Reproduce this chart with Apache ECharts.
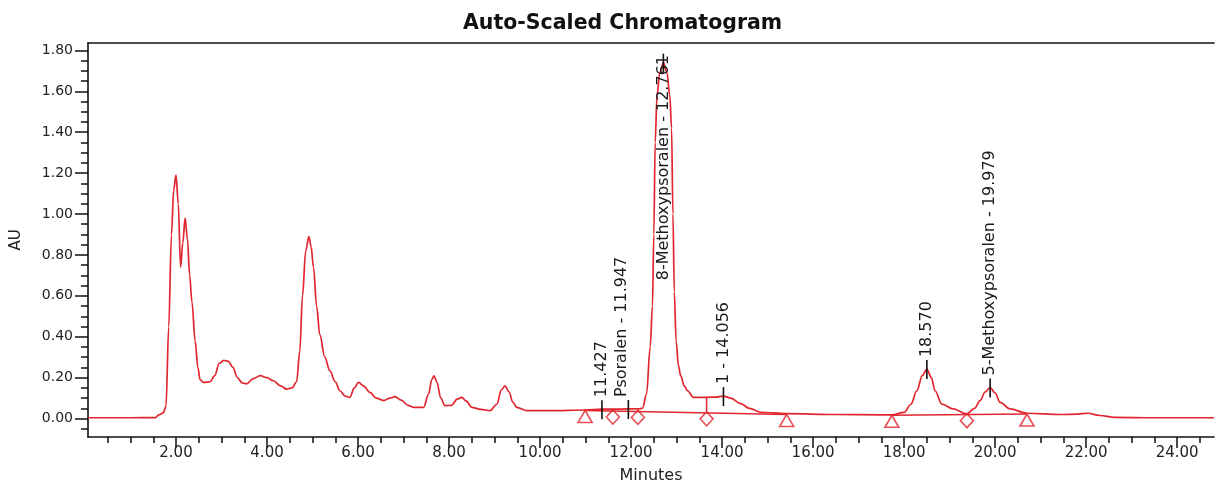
<!DOCTYPE html>
<html><head><meta charset="utf-8">
<script src="https://cdn.jsdelivr.net/npm/echarts@6/dist/echarts.min.js"></script>
<style>html,body{margin:0;padding:0;background:#fff}#c{width:1216px;height:484px}</style>
</head><body><div id="c"></div>
<script>
// ---- data ----
const times = [0.07,1.00,1.55,1.62,1.72,1.78,1.84,1.90,1.95,2.00,2.05,2.10,2.15,2.20,2.25,2.30,2.35,2.42,2.48,2.53,2.60,2.75,2.85,2.95,3.05,3.15,3.25,3.35,3.45,3.55,3.70,3.85,4.00,4.14,4.30,4.43,4.55,4.65,4.72,4.78,4.85,4.92,4.97,5.02,5.09,5.16,5.27,5.38,5.50,5.60,5.72,5.82,5.92,6.01,6.12,6.26,6.40,6.56,6.70,6.81,6.95,7.10,7.22,7.44,7.55,7.62,7.67,7.73,7.82,7.91,8.05,8.18,8.28,8.38,8.50,8.70,8.90,9.05,9.15,9.23,9.32,9.40,9.49,9.71,10.22,11.00,11.36,11.60,11.94,12.15,12.25,12.34,12.42,12.47,12.50,12.53,12.57,12.63,12.71,12.79,12.85,12.89,12.92,12.95,12.99,13.04,13.09,13.17,13.24,13.37,13.66,13.85,14.03,14.19,14.41,14.60,14.85,15.42,16.50,17.50,17.73,18.00,18.15,18.28,18.40,18.50,18.60,18.68,18.83,19.08,19.38,19.55,19.67,19.78,19.89,20.00,20.11,20.33,20.70,21.43,21.80,22.04,22.30,22.62,23.50,24.81];
const au = [0.004,0.004,0.005,0.018,0.028,0.06,0.45,0.90,1.12,1.19,1.05,0.74,0.86,0.98,0.88,0.70,0.57,0.38,0.25,0.19,0.177,0.18,0.21,0.27,0.285,0.28,0.25,0.20,0.175,0.17,0.195,0.21,0.20,0.185,0.16,0.144,0.15,0.18,0.33,0.60,0.82,0.89,0.84,0.74,0.55,0.41,0.30,0.234,0.18,0.136,0.11,0.104,0.15,0.177,0.16,0.128,0.10,0.088,0.10,0.107,0.09,0.065,0.055,0.055,0.12,0.19,0.209,0.18,0.10,0.063,0.065,0.095,0.104,0.085,0.055,0.045,0.039,0.07,0.14,0.16,0.13,0.08,0.055,0.039,0.039,0.042,0.046,0.046,0.047,0.048,0.05,0.12,0.35,0.55,0.90,1.35,1.58,1.69,1.74,1.69,1.58,1.42,1.00,0.62,0.38,0.26,0.21,0.16,0.136,0.104,0.104,0.105,0.11,0.10,0.073,0.05,0.031,0.024,0.02,0.018,0.018,0.03,0.07,0.136,0.21,0.242,0.20,0.136,0.071,0.047,0.023,0.05,0.088,0.13,0.152,0.125,0.079,0.047,0.026,0.02,0.022,0.026,0.015,0.006,0.004,0.004];

const peakTimes = [11.36, 11.94, 12.71, 14.03, 18.50, 19.89];
const peakHeights = [0.046, 0.047, 1.74, 0.11, 0.242, 0.152];
const peakLabels = ['11.427', 'Psoralen - 11.947', '8-Methoxypsoralen - 12.761', '1 - 14.056', '18.570', '5-Methoxypsoralen - 19.979'];

const triangleTimes = [10.99, 15.42, 17.73, 20.70];
const triangleValues = [0.040, 0.020, 0.016, 0.022];
const diamondTimes = [11.60, 12.15, 13.66, 19.38];
const diamondValues = [0.037, 0.035, 0.028, 0.019];
const diamondSignal = [0.046, 0.048, 0.104, 0.023];
const baselineStart = [[10.99, 0.040], [17.73, 0.016]];
const baselineEnd = [[15.42, 0.020], [20.70, 0.022]];

const xMajorTicks = [2, 4, 6, 8, 10, 12, 14, 16, 18, 20, 22, 24];
const xMinorTicks = [0.5, 1, 1.5, 2.5, 3, 3.5, 4.5, 5, 5.5, 6.5, 7, 7.5, 8.5, 9, 9.5, 10.5, 11, 11.5, 12.5, 13, 13.5, 14.5, 15, 15.5, 16.5, 17, 17.5, 18.5, 19, 19.5, 20.5, 21, 21.5, 22.5, 23, 23.5, 24.5];
const yMajorTicks = [0, 0.2, 0.4, 0.6, 0.8, 1.0, 1.2, 1.4, 1.6, 1.8];
const yMinorTicks = [-0.05, 0.05, 0.1, 0.15, 0.25, 0.3, 0.35, 0.45, 0.5, 0.55, 0.65, 0.7, 0.75, 0.85, 0.9, 0.95, 1.05, 1.1, 1.15, 1.25, 1.3, 1.35, 1.45, 1.5, 1.55, 1.65, 1.7, 1.75];

// ---- layout / style ----
const RED = '#e0262e';
const INK = '#111';
const LABEL_FONT = '16px "DejaVu Sans"';
const labelNudgeX = [0, -6, 0, 0, 0, 0];
const X_MIN = 0.066, X_MAX = 24.81, Y_MIN = -0.09, Y_MAX = 1.836;

const ctx = document.createElement('canvas').getContext('2d');
ctx.font = LABEL_FONT;
const textWidth = s => ctx.measureText(s).width;

const chart = echarts.init(document.getElementById('c'), null, {renderer: 'canvas'});

const axisFont = {fontFamily: 'DejaVu Sans', color: '#222'};
const signal = times.map((t, i) => [t, au[i]]);

const option = {
  animation: false,
  title: {
    text: 'Auto-Scaled Chromatogram',
    left: 458, top: 8,
    textStyle: {fontFamily: 'DejaVu Sans', fontWeight: 'bold', fontSize: 20.5, color: '#111'}
  },
  grid: {left: 88, right: 2, top: 43, bottom: 47, containLabel: false, outerBoundsMode: 'none'},
  xAxis: [
    {
      type: 'value', min: X_MIN, max: X_MAX, position: 'bottom',
      name: 'Minutes', nameLocation: 'middle', nameGap: 31,
      nameTextStyle: Object.assign({fontSize: 16}, axisFont),
      axisLine: {show: true, onZero: false, lineStyle: {color: INK, width: 1.6}},
      axisTick: {show: true, customValues: xMajorTicks, length: 11, lineStyle: {color: INK, width: 1.5}},
      axisLabel: {customValues: xMajorTicks, formatter: v => Number(v).toFixed(2), fontSize: 15, margin: 9, fontFamily: 'DejaVu Sans', color: '#222'},
      splitLine: {show: false}
    },
    {
      type: 'value', min: X_MIN, max: X_MAX, position: 'bottom',
      axisLine: {show: false, onZero: false},
      axisTick: {show: true, customValues: xMinorTicks, length: 6, lineStyle: {color: INK, width: 1.5}},
      axisLabel: {show: false},
      splitLine: {show: false}
    },
    {
      type: 'value', min: X_MIN, max: X_MAX, position: 'top',
      axisLine: {show: true, onZero: false, lineStyle: {color: INK, width: 1.6}},
      axisTick: {show: false}, axisLabel: {show: false}, splitLine: {show: false}
    }
  ],
  yAxis: [
    {
      type: 'value', min: Y_MIN, max: Y_MAX, position: 'left',
      name: 'AU', nameLocation: 'middle', nameGap: 64, nameRotate: 90,
      nameTextStyle: Object.assign({fontSize: 15}, axisFont),
      axisLine: {show: true, onZero: false, lineStyle: {color: INK, width: 1.6}},
      axisTick: {show: true, customValues: yMajorTicks, length: 13, lineStyle: {color: INK, width: 1.5}},
      axisLabel: {customValues: yMajorTicks, formatter: v => Number(v).toFixed(2), fontSize: 14, margin: 15, fontFamily: 'DejaVu Sans', color: '#222'},
      splitLine: {show: false}
    },
    {
      type: 'value', min: Y_MIN, max: Y_MAX, position: 'left',
      axisLine: {show: false, onZero: false},
      axisTick: {show: true, customValues: yMinorTicks, length: 7, lineStyle: {color: INK, width: 1.5}},
      axisLabel: {show: false},
      splitLine: {show: false}
    }
  ],
  series: [
    {
      type: 'line', name: 'signal', xAxisIndex: 0, yAxisIndex: 0,
      data: signal, showSymbol: false, smooth: 0.35, smoothMonotone: 'x',
      lineStyle: {color: RED, width: 1.7}, z: 3
    },
    ...baselineStart.map((s, i) => ({
      type: 'line', xAxisIndex: 0, yAxisIndex: 0, showSymbol: false,
      data: [s, baselineEnd[i]], lineStyle: {color: RED, width: 1.5}, z: 3
    })),
    {
      type: 'custom', xAxisIndex: 0, yAxisIndex: 0, z: 4,
      data: diamondTimes.map((t, i) => [t, diamondValues[i], diamondSignal[i]]),
      renderItem: (params, api) => {
        const a = api.coord([api.value(0), api.value(1)]);
        const b = api.coord([api.value(0), api.value(2)]);
        return {type: 'line', shape: {x1: a[0], y1: a[1], x2: b[0], y2: b[1]}, style: {stroke: RED, lineWidth: 1.5}};
      }
    },
    {
      type: 'scatter', xAxisIndex: 0, yAxisIndex: 0, z: 5,
      data: triangleTimes.map((t, i) => [t, triangleValues[i]]),
      symbol: 'triangle', symbolSize: [14, 12], symbolOffset: [0, 6],
      itemStyle: {color: 'rgba(255,255,255,0)', borderColor: RED, borderWidth: 1.6}
    },
    {
      type: 'scatter', xAxisIndex: 0, yAxisIndex: 0, z: 5,
      data: diamondTimes.map((t, i) => [t, diamondValues[i]]),
      symbol: 'diamond', symbolSize: [13, 14], symbolOffset: [0, 6],
      itemStyle: {color: 'rgba(255,255,255,0)', borderColor: RED, borderWidth: 1.6}
    },
    {
      type: 'custom', xAxisIndex: 0, yAxisIndex: 0, z: 6,
      data: peakTimes.map((t, i) => [t, peakHeights[i]]),
      renderItem: (params, api) => {
        const i = params.dataIndex;
        const p = api.coord([api.value(0), api.value(1)]);
        const top = p[1] - 9, bot = p[1] + 10;
        const label = peakLabels[i];
        const w = textWidth(label);
        let start = top - 3;
        const minTop = params.coordSys.y + 12;
        if (start - w < minTop) start = minTop + w;
        return {
          type: 'group',
          children: [
            {type: 'line', shape: {x1: p[0], y1: top, x2: p[0], y2: bot}, style: {stroke: INK, lineWidth: 1.6}},
            {type: 'text', x: p[0] + labelNudgeX[i], y: start, rotation: Math.PI / 2,
              style: {text: label, font: LABEL_FONT, fill: '#1a1a1a', align: 'left', verticalAlign: 'middle'}}
          ]
        };
      }
    }
  ]
};
chart.setOption(option);
</script>
</body></html>
